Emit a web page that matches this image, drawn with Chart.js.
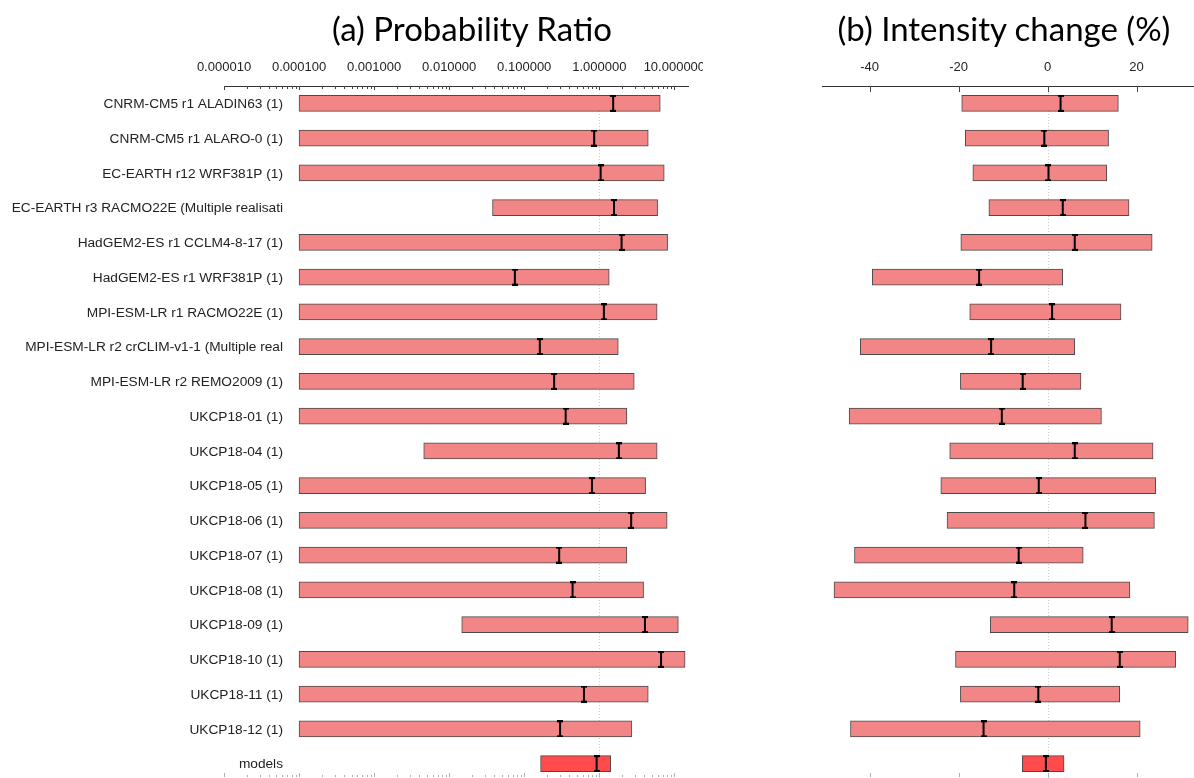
<!DOCTYPE html>
<html><head><meta charset="utf-8">
<script src="https://cdn.jsdelivr.net/npm/chart.js@4.4.0/dist/chart.umd.min.js"></script>
<style>
html,body{margin:0;padding:0;background:#fff;width:1194px;height:778px;overflow:hidden;}
.title{position:absolute;top:9px;line-height:38px;font-family:Lato,'Open Sans',sans-serif;font-size:33px;color:#000;white-space:nowrap;transform:translateX(-50%);}
#wa{position:absolute;left:0;top:0;width:703px;height:778px;overflow:hidden;}
#wb{position:absolute;left:703px;top:0;width:491px;height:778px;overflow:hidden;}
canvas{display:block;}
</style></head><body>
<div id="wa"><canvas id="ca" width="760" height="781" style="width:760px;height:781px"></canvas></div>
<div id="wb"><canvas id="cb" width="491" height="781" style="width:491px;height:781px"></canvas></div>
<div class="title" style="left:472px">(a) Probability Ratio</div>
<div class="title" style="left:1004px">(b) Intensity change (%)</div>
<script>
// ---- data ----
const categories = [
  "CNRM-CM5 r1 ALADIN63 (1)",
  "CNRM-CM5 r1 ALARO-0 (1)",
  "EC-EARTH r12 WRF381P (1)",
  "EC-EARTH r3 RACMO22E (Multiple realisati",
  "HadGEM2-ES r1 CCLM4-8-17 (1)",
  "HadGEM2-ES r1 WRF381P (1)",
  "MPI-ESM-LR r1 RACMO22E (1)",
  "MPI-ESM-LR r2 crCLIM-v1-1 (Multiple real",
  "MPI-ESM-LR r2 REMO2009 (1)",
  "UKCP18-01 (1)",
  "UKCP18-04 (1)",
  "UKCP18-05 (1)",
  "UKCP18-06 (1)",
  "UKCP18-07 (1)",
  "UKCP18-08 (1)",
  "UKCP18-09 (1)",
  "UKCP18-10 (1)",
  "UKCP18-11 (1)",
  "UKCP18-12 (1)",
  "models"
];
const prLow  = [1e-4,1e-4,1e-4,0.0378,1e-4,1e-4,1e-4,1e-4,1e-4,1e-4,0.00458,1e-4,1e-4,1e-4,1e-4,0.0147,1e-4,1e-4,1e-4,0.165];
const prBest = [1.53,0.855,1.04,1.57,1.98,0.075,1.15,0.161,0.25,0.356,1.82,0.797,2.66,0.292,0.44,4.05,6.64,0.624,0.3,0.92];
const prHigh = [6.49,4.49,7.33,5.98,8.13,1.355,5.9,1.79,2.92,2.33,5.9,4.14,8.02,2.33,3.89,11.3,13.9,4.49,2.72,1.42];

const icLow  = [-19.3,-18.5,-16.8,-13.2,-19.5,-39.4,-17.5,-42.1,-19.6,-44.6,-22.0,-24.0,-22.6,-43.4,-48.0,-12.9,-20.7,-19.6,-44.3,-5.7];
const icBest = [2.9,-0.75,0.2,3.4,6.1,-15.4,1.0,-12.7,-5.6,-10.3,6.1,-2.0,8.5,-6.5,-7.5,14.4,16.2,-2.1,-14.4,-0.4];
const icHigh = [15.9,13.7,13.3,18.3,23.5,3.4,16.5,6.1,7.5,12.1,23.7,24.3,24.0,8.0,18.5,31.6,28.8,16.2,20.8,3.7];

const prDecades = [-5,-4,-3,-2,-1,0,1];   // tick decades (10^n)
const prAxisMin = 1e-5, prAxisMax = 15.2, prRef = 1;
const icTicks = [-40,-20,0,20];
const icAxisMin = -50.7, icAxisMax = 32.9, icRef = 0;

// ---- styling ----
const BAR_FILL = '#F28585', MODEL_FILL = '#FF4B4B', BAR_EDGE = '#4a4a4a';
const FONT = {family:"'Liberation Sans', Arial, sans-serif", size:13};
const LABEL_FONT = "13.7px 'Liberation Sans', Arial, sans-serif";

function makeIBeam(){
  const c = document.createElement('canvas');
  c.width = 6; c.height = 17;
  const g = c.getContext('2d');
  g.fillStyle = '#000';
  g.fillRect(2,0,2,17);
  g.fillRect(0,0,6,2);
  g.fillRect(0,15,6,2);
  return c;
}
const IBEAM = makeIBeam();

const isDecade = v => Math.abs(Math.log10(v) - Math.round(Math.log10(v))) < 1e-9;

const axisDecor = {
  id:'axisDecor',
  beforeDatasetsDraw(chart, args, o){
    const {ctx, chartArea:a} = chart; const x = chart.scales.x;
    const px = Math.round(x.getPixelForValue(o.ref)) + 0.5;
    ctx.save();
    ctx.strokeStyle = '#cfcfcf'; ctx.lineWidth = 1; ctx.setLineDash([1,2]);
    ctx.beginPath(); ctx.moveTo(px, a.top+1); ctx.lineTo(px, a.bottom); ctx.stroke();
    ctx.restore();
  },
  afterDraw(chart, args, o){
    const {ctx, chartArea:a} = chart; const x = chart.scales.x; const y = chart.scales.y;
    ctx.save(); ctx.lineWidth = 1;
    x.ticks.forEach(t => {
      const px = Math.round(x.getPixelForValue(t.value)) + 0.5;
      const major = o.major(t.value);
      ctx.strokeStyle = '#444';
      ctx.beginPath(); ctx.moveTo(px, a.top); ctx.lineTo(px, a.top + (major ? o.topMajor : o.topMinor)); ctx.stroke();
      ctx.strokeStyle = '#b0b0b0';
      ctx.beginPath(); ctx.moveTo(px, 777); ctx.lineTo(px, 777 - (major ? 4 : 2)); ctx.stroke();
    });
    if (o.labelRight) {
      ctx.font = LABEL_FONT; ctx.fillStyle = '#222';
      ctx.textAlign = 'right'; ctx.textBaseline = 'middle';
      chart.data.labels.forEach((lab, i) => {
        ctx.fillText(lab, o.labelRight, y.getPixelForValue(i) + 1);
      });
    }
    ctx.restore();
  }
};

function datasets(lo, best, hi){
  return [
    {type:'line', order:0, data:best, showLine:false, pointStyle:IBEAM, pointRadius:6, pointHoverRadius:6},
    {type:'bar', order:1, data:categories.map((_,i)=>[lo[i],hi[i]]),
     backgroundColor:categories.map((c,i)=> i===categories.length-1 ? MODEL_FILL : BAR_FILL),
     borderColor:BAR_EDGE, borderWidth:1, borderSkipped:false, barThickness:16}
  ];
}

new Chart(document.getElementById('ca'), {
  data:{labels:categories, datasets:datasets(prLow, prBest, prHigh)},
  options:{
    indexAxis:'y', responsive:false, animation:false, events:[],
    layout:{autoPadding:false, padding:{top:50,left:0,right:72,bottom:0}},
    plugins:{legend:{display:false}, tooltip:{enabled:false},
      axisDecor:{ref:prRef, major:isDecade, topMajor:4, topMinor:3, labelRight:283}},
    scales:{
      x:{type:'logarithmic', position:'top', min:prAxisMin, max:prAxisMax,
        afterBuildTicks(s){ const t=[]; prDecades.forEach(e=>{ for(let m=1;m<=9;m++){ const v=m*Math.pow(10,e); if(v<=s.max) t.push({value:v}); } }); s.ticks=t; },
        afterFit(s){ s.height = 36; },
        grid:{display:false, drawTicks:false},
        border:{display:true, color:'#333', width:1},
        ticks:{autoSkip:false, maxRotation:0, padding:11, font:FONT, color:'#222',
          callback:(v)=> isDecade(v) ? Number(v).toFixed(6) : ''}
      },
      y:{type:'category', position:'left', offset:true,
        afterFit(s){ s.width = 224; },
        grid:{display:false, drawTicks:false}, border:{display:false},
        ticks:{display:false}
      }
    }
  },
  plugins:[axisDecor]
});

new Chart(document.getElementById('cb'), {
  data:{labels:categories, datasets:datasets(icLow, icBest, icHigh)},
  options:{
    indexAxis:'y', responsive:false, animation:false, events:[],
    layout:{autoPadding:false, padding:{top:50,left:119,right:0,bottom:0}},
    plugins:{legend:{display:false}, tooltip:{enabled:false},
      axisDecor:{ref:icRef, major:()=>true, topMajor:6, topMinor:6}},
    scales:{
      x:{type:'linear', position:'top', min:icAxisMin, max:icAxisMax,
        afterBuildTicks(s){ s.ticks = icTicks.map(v=>({value:v})); },
        afterFit(s){ s.height = 36; },
        grid:{display:false, drawTicks:false},
        border:{display:true, color:'#333', width:1},
        ticks:{autoSkip:false, maxRotation:0, padding:11, font:FONT, color:'#222'}
      },
      y:{type:'category', display:false, offset:true}
    }
  },
  plugins:[axisDecor]
});
</script>
</body></html>
